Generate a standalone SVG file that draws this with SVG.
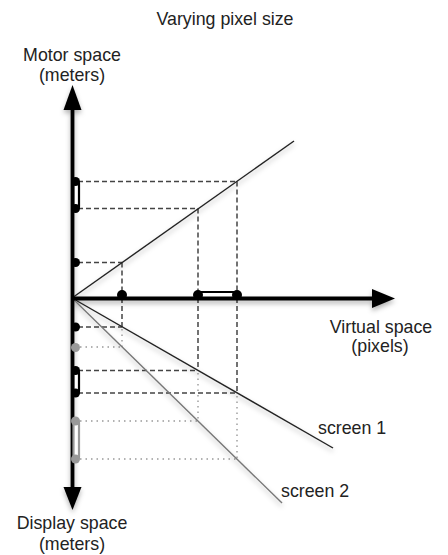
<svg xmlns="http://www.w3.org/2000/svg" width="448" height="555" viewBox="0 0 448 555">
  <defs>
    <filter id="sh" x="-20%" y="-20%" width="140%" height="160%">
      <feDropShadow dx="0" dy="3" stdDeviation="2.5" flood-color="#000" flood-opacity="0.3"/>
    </filter>
  </defs>
  <style>
    text { font-family: "Liberation Sans", Arial, sans-serif; font-size: 17.8px; fill: #222; }
    .mid { text-anchor: middle; }
    .axis { stroke: #000; stroke-width: 3.8; fill: none; }
    .head { fill: #000; }
    .ln { stroke: #222; stroke-width: 1.4; fill: none; }
    .ln2 { stroke: #777; stroke-width: 1.4; fill: none; }
    .dash { stroke: #444; stroke-width: 1.5; stroke-dasharray: 5 3; fill: none; }
    .dot { stroke: #999; stroke-width: 1.4; stroke-dasharray: 1.5 4; fill: none; }
    .bd { fill: #000; }
    .gd { fill: #999; }
    .bbar { fill: #fff; stroke: #000; stroke-width: 2.2; }
    .gbar { fill: #fff; stroke: #999; stroke-width: 2.2; }
  </style>

  <g id="title">
    <text class="mid" x="225" y="25">Varying pixel size</text>
  </g>

  <g id="guides">
    <path class="dash" d="M78 181.5H237M78 208.5H198M78 262.5H122"/>
    <path class="dash" d="M122 262.5V298M198 208.5V298M237 181.5V298"/>
    <path class="dash" d="M122 298V327M198 298V370.5M237 298V393"/>
    <path class="dash" d="M78 327H122M78 370.5H198M78 393H237"/>
    <path class="dot" d="M122 329V347M198 373V421M237 396V459"/>
    <path class="dot" d="M80 347H122M80 421H198M80 459H237"/>
  </g>

  <g id="connectors" filter="url(#sh)">
    <line class="ln" x1="72" y1="298" x2="294" y2="141"/>
    <line class="ln" x1="72" y1="298" x2="333" y2="448"/>
    <line class="ln2" x1="72" y1="298" x2="282" y2="503"/>
    <line class="axis" x1="72.5" y1="108" x2="72.5" y2="489"/>
    <line class="axis" x1="72" y1="298.5" x2="374" y2="298.5"/>
    <polygon class="head" points="72.5,85 63.5,110 81.5,110"/>
    <polygon class="head" points="72.5,510 63.5,487 81.5,487"/>
    <polygon class="head" points="395,298.5 372,289 372,308"/>
  </g>

  <g id="motor-marks">
    <rect class="bbar" x="73.5" y="181.5" width="5.5" height="27" rx="2"/>
    <circle class="bd" cx="75.5" cy="181.5" r="4.5"/>
    <circle class="bd" cx="75.5" cy="208.5" r="4.5"/>
    <circle class="bd" cx="75.5" cy="262.5" r="4.5"/>
  </g>

  <g id="virtual-marks">
    <rect class="bbar" x="198" y="292" width="39" height="5.5" rx="2"/>
    <circle class="bd" cx="122" cy="295" r="5"/>
    <circle class="bd" cx="198" cy="295" r="5"/>
    <circle class="bd" cx="237" cy="295" r="5"/>
  </g>

  <g id="display-marks">
    <circle class="bd" cx="75.5" cy="327" r="4.5"/>
    <circle class="gd" cx="75.5" cy="347.5" r="4.5"/>
    <rect class="bbar" x="73.5" y="370.5" width="5.5" height="22.5" rx="2"/>
    <circle class="bd" cx="75.5" cy="370.5" r="4.5"/>
    <circle class="bd" cx="75.5" cy="393" r="4.5"/>
    <rect class="gbar" x="73.5" y="421" width="5.5" height="38" rx="2"/>
    <circle class="gd" cx="75.5" cy="421" r="4.5"/>
    <circle class="gd" cx="75.5" cy="459" r="4.5"/>
  </g>

  <g id="motor-label">
    <text class="mid" x="72" y="61">Motor space</text>
    <text class="mid" x="72" y="81">(meters)</text>
  </g>
  <g id="virtual-label">
    <text class="mid" x="381" y="333">Virtual space</text>
    <text class="mid" x="380" y="352">(pixels)</text>
  </g>
  <g id="screen1-label">
    <text x="318" y="434">screen 1</text>
  </g>
  <g id="screen2-label">
    <text x="281" y="497">screen 2</text>
  </g>
  <g id="display-label">
    <text class="mid" x="72" y="529">Display space</text>
    <text class="mid" x="72" y="550">(meters)</text>
  </g>
</svg>
